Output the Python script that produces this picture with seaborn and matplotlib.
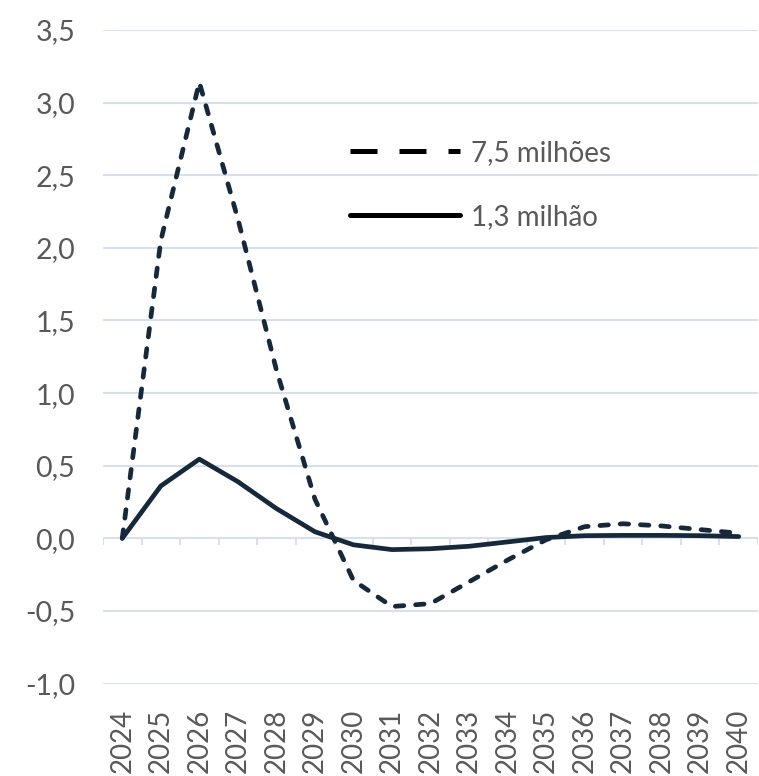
import matplotlib
matplotlib.use("Agg")
import matplotlib.pyplot as plt
import matplotlib.ticker as mticker
from matplotlib.lines import Line2D
import seaborn as sns
import pandas as pd
import numpy as np

# dados
anos = list(range(2024, 2041))
cenario_75 = [0.0, 2.05, 3.14, 2.2, 1.16, 0.27, -0.29, -0.47, -0.45, -0.30, -0.15,
              -0.01, 0.08, 0.10, 0.085, 0.06, 0.035]
cenario_13 = [0.0, 0.36, 0.545, 0.39, 0.205, 0.045, -0.045, -0.078, -0.072, -0.055, -0.025,
              0.005, 0.018, 0.02, 0.02, 0.018, 0.012]
rotulos = ["7,5 milhões", "1,3 milhão"]
y_ticks = [-1.0, -0.5, 0.0, 0.5, 1.0, 1.5, 2.0, 2.5, 3.0, 3.5]

df = pd.DataFrame({"ano": anos, "c75": cenario_75, "c13": cenario_13})

sns.set_style("white")
plt.rcParams['font.family'] = ['Lato', 'DejaVu Sans']

cor_linha = '#16293b'
cor_grade = '#d6e0ef'
cor_texto = '#595959'

fig = plt.figure(figsize=(7.59, 7.76), dpi=100)
ax = fig.add_axes([0.1357, 0.1192, 0.863, 0.8421])

# marcas do eixo das categorias (entre as categorias)
limites = np.arange(anos[0] - 0.5, anos[-1] + 1)
ax.vlines(limites, -0.048, 0, color=cor_grade, lw=1.5, zorder=1)

sns.lineplot(data=df, x="ano", y="c75", ax=ax, color=cor_linha, lw=3.4,
             dashes=False, linestyle=(0, (1.8, 2.5)), dash_capstyle='round', zorder=3)
sns.lineplot(data=df, x="ano", y="c13", ax=ax, color=cor_linha, lw=3.4, zorder=4,
             solid_capstyle='round')

ax.set_xlim(anos[0] - 0.5, anos[-1] + 0.5)
ax.set_ylim(y_ticks[0], y_ticks[-1])
ax.set_yticks(y_ticks)
ax.yaxis.set_major_formatter(mticker.FuncFormatter(lambda v, p: f"{v:.1f}".replace('.', ',')))
ax.set_xticks(anos)
ax.set_xticklabels([str(a) for a in anos], rotation=90)
ax.set_xlabel("")
ax.set_ylabel("")

ax.yaxis.grid(True, color=cor_grade, lw=1.5, zorder=0)
ax.xaxis.grid(False)
ax.set_axisbelow(True)
for s in ax.spines.values():
    s.set_visible(False)
ax.tick_params(axis='y', length=0, pad=20, labelsize=20.5, labelcolor=cor_texto)
ax.tick_params(axis='x', length=0, pad=18, labelsize=20, labelcolor=cor_texto)

handles = [Line2D([], [], color='black', lw=3.6, linestyle=(0, (5.4, 4.4))),
           Line2D([], [], color='black', lw=3.6)]
leg = ax.legend(handles, rotulos, loc='upper left', bbox_to_anchor=(0.377, 0.832),
                frameon=False, fontsize=20, handlelength=3.95, handletextpad=0.4,
                labelspacing=1.36, borderpad=0, borderaxespad=0)
for t in leg.get_texts():
    t.set_color(cor_texto)

fig.savefig("out.png", dpi=100)
